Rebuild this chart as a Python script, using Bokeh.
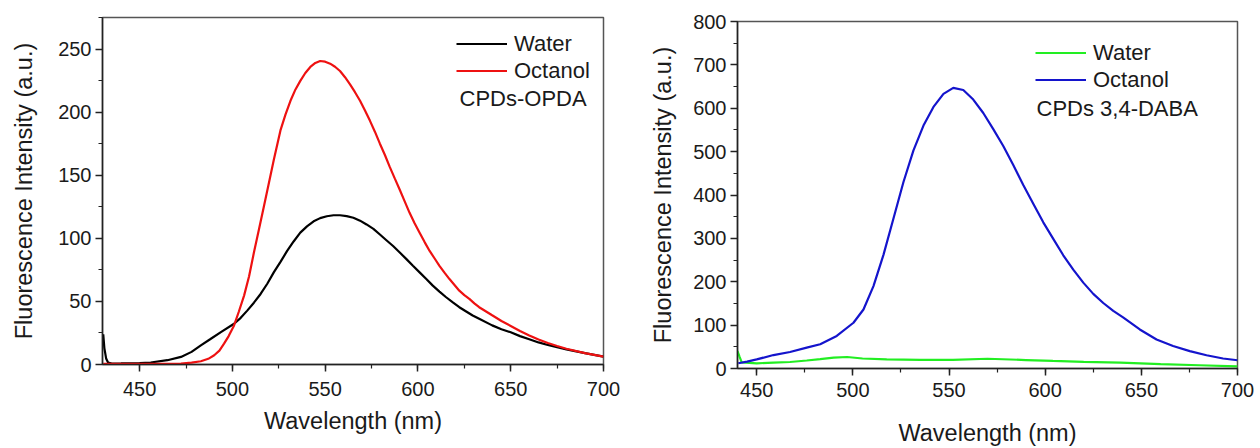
from bokeh.plotting import figure
from bokeh.layouts import row
from bokeh.models import SingleIntervalTicker, Legend, LegendItem, Label, Range1d
from bokeh.embed import file_html
from bokeh.resources import INLINE

# ---- Left panel: CPDs-OPDA ----
opda_water_wl = [430.4, 431, 432, 433, 435, 440, 450, 456, 465, 472.3, 478, 483, 488, 493.8,
                 500.9, 504.5, 508, 511.6, 515.2, 518.8, 522.3, 526, 529.5, 533, 536.6, 540.2,
                 543.8, 547.3, 550.9, 554.5, 558, 561.6, 565.2, 568.8, 572.3, 576, 579.5, 583,
                 586.6, 590.2, 593.8, 597.3, 600.9, 604.5, 608, 611.6, 615.2, 618.8, 622.3,
                 626, 629.5, 633, 640, 645, 650, 655, 660, 665, 670, 675, 680, 690, 700]
opda_water = [24, 13, 4.5, 1.5, 0.8, 0.9, 1.2, 1.6, 3.4, 6, 10, 15.2, 20, 25.7,
              32.3, 37, 42.7, 49, 55.9, 64, 73, 81.5, 90, 97.5, 104.5, 109.5,
              113.5, 116, 117.5, 118.3, 118.3, 117.6, 116.3, 114, 111, 107.5, 103, 98.5,
              93.9, 88.8, 83.5, 78.2, 73, 67.7, 62.5, 57.8, 53.3, 49.2, 45.4,
              42, 38.8, 36.2, 31, 28, 25.5, 22.5, 20, 17.5, 15.5, 13.7, 12, 9, 6.3]

opda_oct_wl = [430.4, 450, 465, 472.3, 478, 483, 487, 490.2, 493, 495.5, 498, 500.9, 503.5,
               506.3, 509, 511.6, 514.3, 517, 519.7, 522.3, 525.9, 528.6, 531.3, 534, 536.6,
               539.3, 542, 544.7, 547.3, 550, 552.7, 555.3, 558, 560.7, 563.4, 566, 568.8,
               571.4, 574.1, 576.8, 579.5, 582.2, 584.8, 587.5, 590.2, 592.8, 595.5, 598.2,
               600.9, 603.6, 606.3, 609, 611.6, 614.3, 617, 619.7, 622.3, 625, 627.7, 630.4,
               633, 640, 645, 650, 655, 660, 665, 670, 675, 680, 690, 700]
opda_oct = [0.5, 0.5, 0.6, 0.8, 1.5, 2.6, 4.5, 7.3, 11, 16.5, 22.5, 31, 42,
            54.6, 70, 88.7, 107, 125.4, 144, 162, 185.5, 198, 209, 218, 224.8,
            231, 235.8, 239, 240.5, 240, 238.4, 236, 232.6, 227.7, 222, 216, 209,
            201.5, 193.3, 184.5, 175, 166, 156.6, 147.5, 138.5, 129.5, 120.2, 112,
            104.5, 97, 90, 84, 78.2, 72.8, 67.7, 63, 58.5, 55, 52, 48.5,
            45.4, 39, 34.5, 30.5, 26.5, 23, 19.8, 17, 14.7, 12.5, 9, 6.3]

# ---- Right panel: CPDs 3,4-DABA ----
daba_oct_wl = [440.4, 445, 450, 458.7, 467.3, 476, 483, 491.6, 500.3, 505.5, 510.7, 515.9,
               521.1, 526.3, 531.5, 536.7, 541.9, 547.1, 552.2, 557.4, 562.6, 567.8, 573,
               578.2, 583.4, 588.6, 593.8, 599, 604.2, 609.4, 614.6, 619.8, 625, 630.2,
               635.4, 640.5, 649.2, 657.9, 666.5, 675.2, 683.9, 692.5, 700]
daba_oct = [12, 16, 21, 31, 38, 48, 56, 75, 105.5, 136, 190, 262,
            346, 430, 503, 560, 603, 633, 647, 642, 620, 589, 552,
            513, 469, 423, 380, 337, 299, 261, 228, 198, 172, 151,
            133, 118, 90, 67, 52, 40, 30.5, 23, 19]

daba_water_wl = [440, 441, 442.2, 450, 458.7, 467.3, 476, 483, 490, 497, 505, 517.6, 535,
                 552, 570, 590, 604, 620, 639, 660, 680, 700]
daba_water = [40, 28, 14, 12, 13.5, 15, 18.5, 21.5, 25, 26.5, 23, 21, 20,
              20, 22.5, 19.5, 17.5, 15.5, 13.5, 10, 7.5, 5]

FONT = "Liberation Sans"
TXT = "#1a1a1a"


def style(p, y_interval, x_std, xlab_std, ylab_std):
    p.xgrid.visible = False
    p.ygrid.visible = False
    p.xaxis.ticker = SingleIntervalTicker(interval=50, num_minor_ticks=2)
    p.yaxis.ticker = SingleIntervalTicker(interval=y_interval, num_minor_ticks=2)
    for ax in (p.xaxis[0], p.yaxis[0]):
        ax.major_label_text_font = FONT
        ax.major_label_text_font_size = "20px"
        ax.major_label_text_color = TXT
        ax.axis_label_text_font = FONT
        ax.axis_label_text_font_size = "23.5px"
        ax.axis_label_text_font_style = "normal"
        ax.axis_label_text_color = TXT
        ax.axis_line_color = "#222222"
        ax.axis_line_width = 1.5
        ax.major_tick_line_color = "#222222"
        ax.major_tick_line_width = 1.5
        ax.minor_tick_line_color = "#222222"
        ax.minor_tick_line_width = 1.2
        ax.major_tick_out = 7
        ax.major_tick_in = 0
        ax.minor_tick_out = 4
        ax.minor_tick_in = 0
    p.xaxis.major_label_standoff = x_std
    p.yaxis.major_label_standoff = 4
    p.xaxis.axis_label = "Wavelength (nm)"
    p.yaxis.axis_label = "Fluorescence Intensity (a.u.)"
    p.xaxis.axis_label_standoff = xlab_std
    p.yaxis.axis_label_standoff = ylab_std
    p.outline_line_color = "#555555"
    p.outline_line_width = 1.5
    p.background_fill_color = "white"
    p.border_fill_color = "white"


def add_legend(p, items, x, y):
    leg = Legend(items=items, location=(x, y), padding=0, margin=0, spacing=0,
                 glyph_width=51, glyph_height=27, label_height=27, label_standoff=7,
                 label_text_font=FONT, label_text_font_size="22px", label_text_color=TXT,
                 border_line_alpha=0, background_fill_alpha=0)
    p.add_layout(leg)


# Left figure
p1 = figure(width=628, height=444, output_backend="svg", toolbar_location=None,
            x_range=Range1d(430, 700), y_range=Range1d(0, 275),
            min_border_left=102, min_border_right=25, min_border_top=17, min_border_bottom=78)
style(p1, 50, 10, 9, 18)
r1 = p1.line(opda_water_wl, opda_water, line_color="#000000", line_width=2.2)
r2 = p1.line(opda_oct_wl, opda_oct, line_color="#ee1111", line_width=2.2)
add_legend(p1, [LegendItem(label="Water", renderers=[r1]),
                LegendItem(label="Octanol", renderers=[r2])], 354, 280)
p1.add_layout(Label(x=357, y=266, x_units="screen", y_units="screen", text="CPDs-OPDA",
                    text_font=FONT, text_font_size="22px", text_color=TXT,
                    text_baseline="middle"))

# Right figure (shifted 4px down in the reference)
p2 = figure(width=630, height=444, output_backend="svg", toolbar_location=None,
            x_range=Range1d(440, 700), y_range=Range1d(0, 800),
            min_border_left=109, min_border_right=21, min_border_top=17, min_border_bottom=78,
            margin=(4, 0, 0, 0))
style(p2, 100, 7, 20, 14)
r3 = p2.line(daba_water_wl, daba_water, line_color="#22ee22", line_width=2.2)
r4 = p2.line(daba_oct_wl, daba_oct, line_color="#1414cc", line_width=2.2)
add_legend(p2, [LegendItem(label="Water", renderers=[r3]),
                LegendItem(label="Octanol", renderers=[r4])], 298, 275)
p2.add_layout(Label(x=299, y=260, x_units="screen", y_units="screen", text="CPDs 3,4-DABA",
                    text_font=FONT, text_font_size="22px", text_color=TXT,
                    text_baseline="middle"))

layout = row(p1, p2)
open("out.html", "w").write(file_html(layout, INLINE))
